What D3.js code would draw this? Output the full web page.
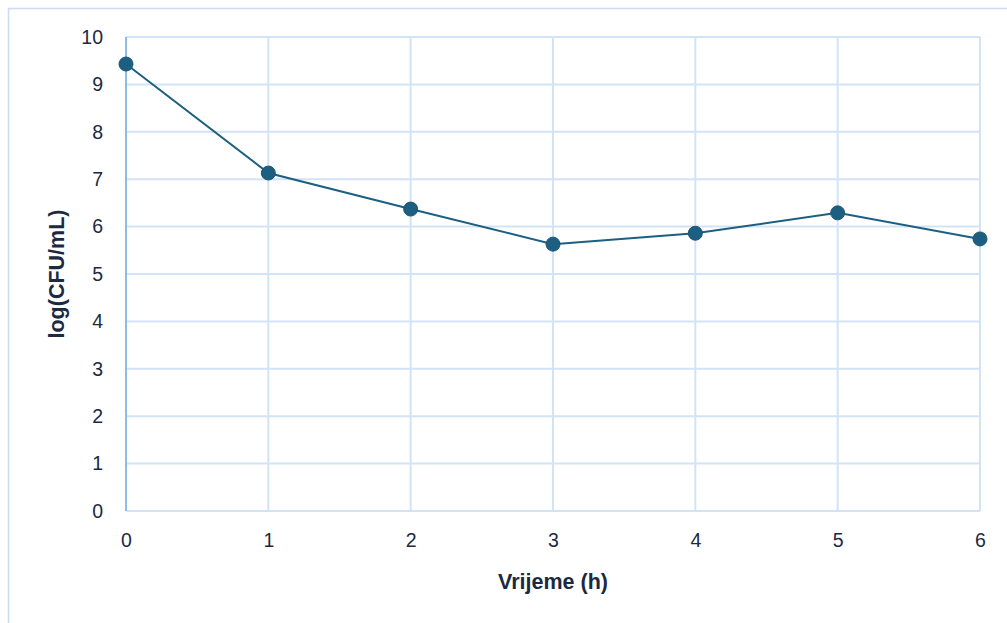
<!DOCTYPE html>
<html>
<head>
<meta charset="utf-8">
<script src="https://cdn.jsdelivr.net/npm/d3@7"></script>
<style>
  body { margin: 0; background: #fff; }
  text { font-family: "Liberation Sans", Arial, sans-serif; }
</style>
</head>
<body>
<svg id="chart" width="1007" height="623"></svg>
<script>
const hours = [0, 1, 2, 3, 4, 5, 6];
const logCfu = [9.43, 7.13, 6.37, 5.63, 5.86, 6.29, 5.74];
const yTicks = [0, 1, 2, 3, 4, 5, 6, 7, 8, 9, 10];

const margin = {top: 37, right: 27, bottom: 112, left: 126};
const width = 1007 - margin.left - margin.right;
const height = 623 - margin.top - margin.bottom;

const svg = d3.select("#chart");

// outer chart border
svg.append("rect")
  .attr("x", 8.5).attr("y", 8.5)
  .attr("width", 1010).attr("height", 630)
  .attr("fill", "none")
  .attr("stroke", "#c9dcf1")
  .attr("stroke-width", 1.5);

const g = svg.append("g")
  .attr("transform", `translate(${margin.left}, ${margin.top})`);

const x = d3.scaleLinear().domain([0, 6]).range([0, width]);
const y = d3.scaleLinear().domain([0, 10]).range([height, 0]);

// gridlines
g.append("g")
  .selectAll("line")
  .data(yTicks)
  .join("line")
  .attr("x1", 0).attr("x2", width)
  .attr("y1", (d) => y(d)).attr("y2", (d) => y(d))
  .attr("stroke", "#d3e3f6")
  .attr("stroke-width", 2);

g.append("g")
  .selectAll("line")
  .data(hours.slice(1))
  .join("line")
  .attr("x1", (d) => x(d)).attr("x2", (d) => x(d))
  .attr("y1", 0).attr("y2", height)
  .attr("stroke", "#d3e3f6")
  .attr("stroke-width", 2);

// y axis line
g.append("line")
  .attr("x1", 0).attr("x2", 0)
  .attr("y1", 0).attr("y2", height)
  .attr("stroke", "#8ebbec")
  .attr("stroke-width", 2);

// tick labels
const yAxis = g.append("g")
  .call(d3.axisLeft(y).tickValues(yTicks).tickSize(0).tickPadding(23));
yAxis.select(".domain").remove();
yAxis.selectAll("text")
  .attr("font-size", 19.5)
  .attr("fill", "#1b2a41");

const xAxis = g.append("g")
  .attr("transform", `translate(0, ${height})`)
  .call(d3.axisBottom(x).tickValues(hours).tickFormat(d3.format("d")).tickSize(0).tickPadding(22));
xAxis.select(".domain").remove();
xAxis.selectAll("text")
  .attr("font-size", 19.5)
  .attr("fill", "#1b2a41");

// axis titles
svg.append("text")
  .attr("x", margin.left + width / 2)
  .attr("y", 589)
  .attr("text-anchor", "middle")
  .attr("font-size", 21.5)
  .attr("font-weight", "bold")
  .attr("fill", "#1b2a41")
  .text("Vrijeme (h)");

svg.append("text")
  .attr("transform", `translate(64, ${margin.top + height / 2}) rotate(-90)`)
  .attr("text-anchor", "middle")
  .attr("font-size", 21.5)
  .attr("font-weight", "bold")
  .attr("fill", "#1b2a41")
  .text("log(CFU/mL)");

// series
const line = d3.line()
  .x((d, i) => x(hours[i]))
  .y((d) => y(d));

g.append("path")
  .datum(logCfu)
  .attr("d", line)
  .attr("fill", "none")
  .attr("stroke", "#1c5f80")
  .attr("stroke-width", 2);

g.selectAll("circle")
  .data(logCfu)
  .join("circle")
  .attr("cx", (d, i) => x(hours[i]))
  .attr("cy", (d) => y(d))
  .attr("r", 7)
  .attr("fill", "#1c5f80")
  .attr("stroke", "#1a5878")
  .attr("stroke-width", 1);
</script>
</body>
</html>
